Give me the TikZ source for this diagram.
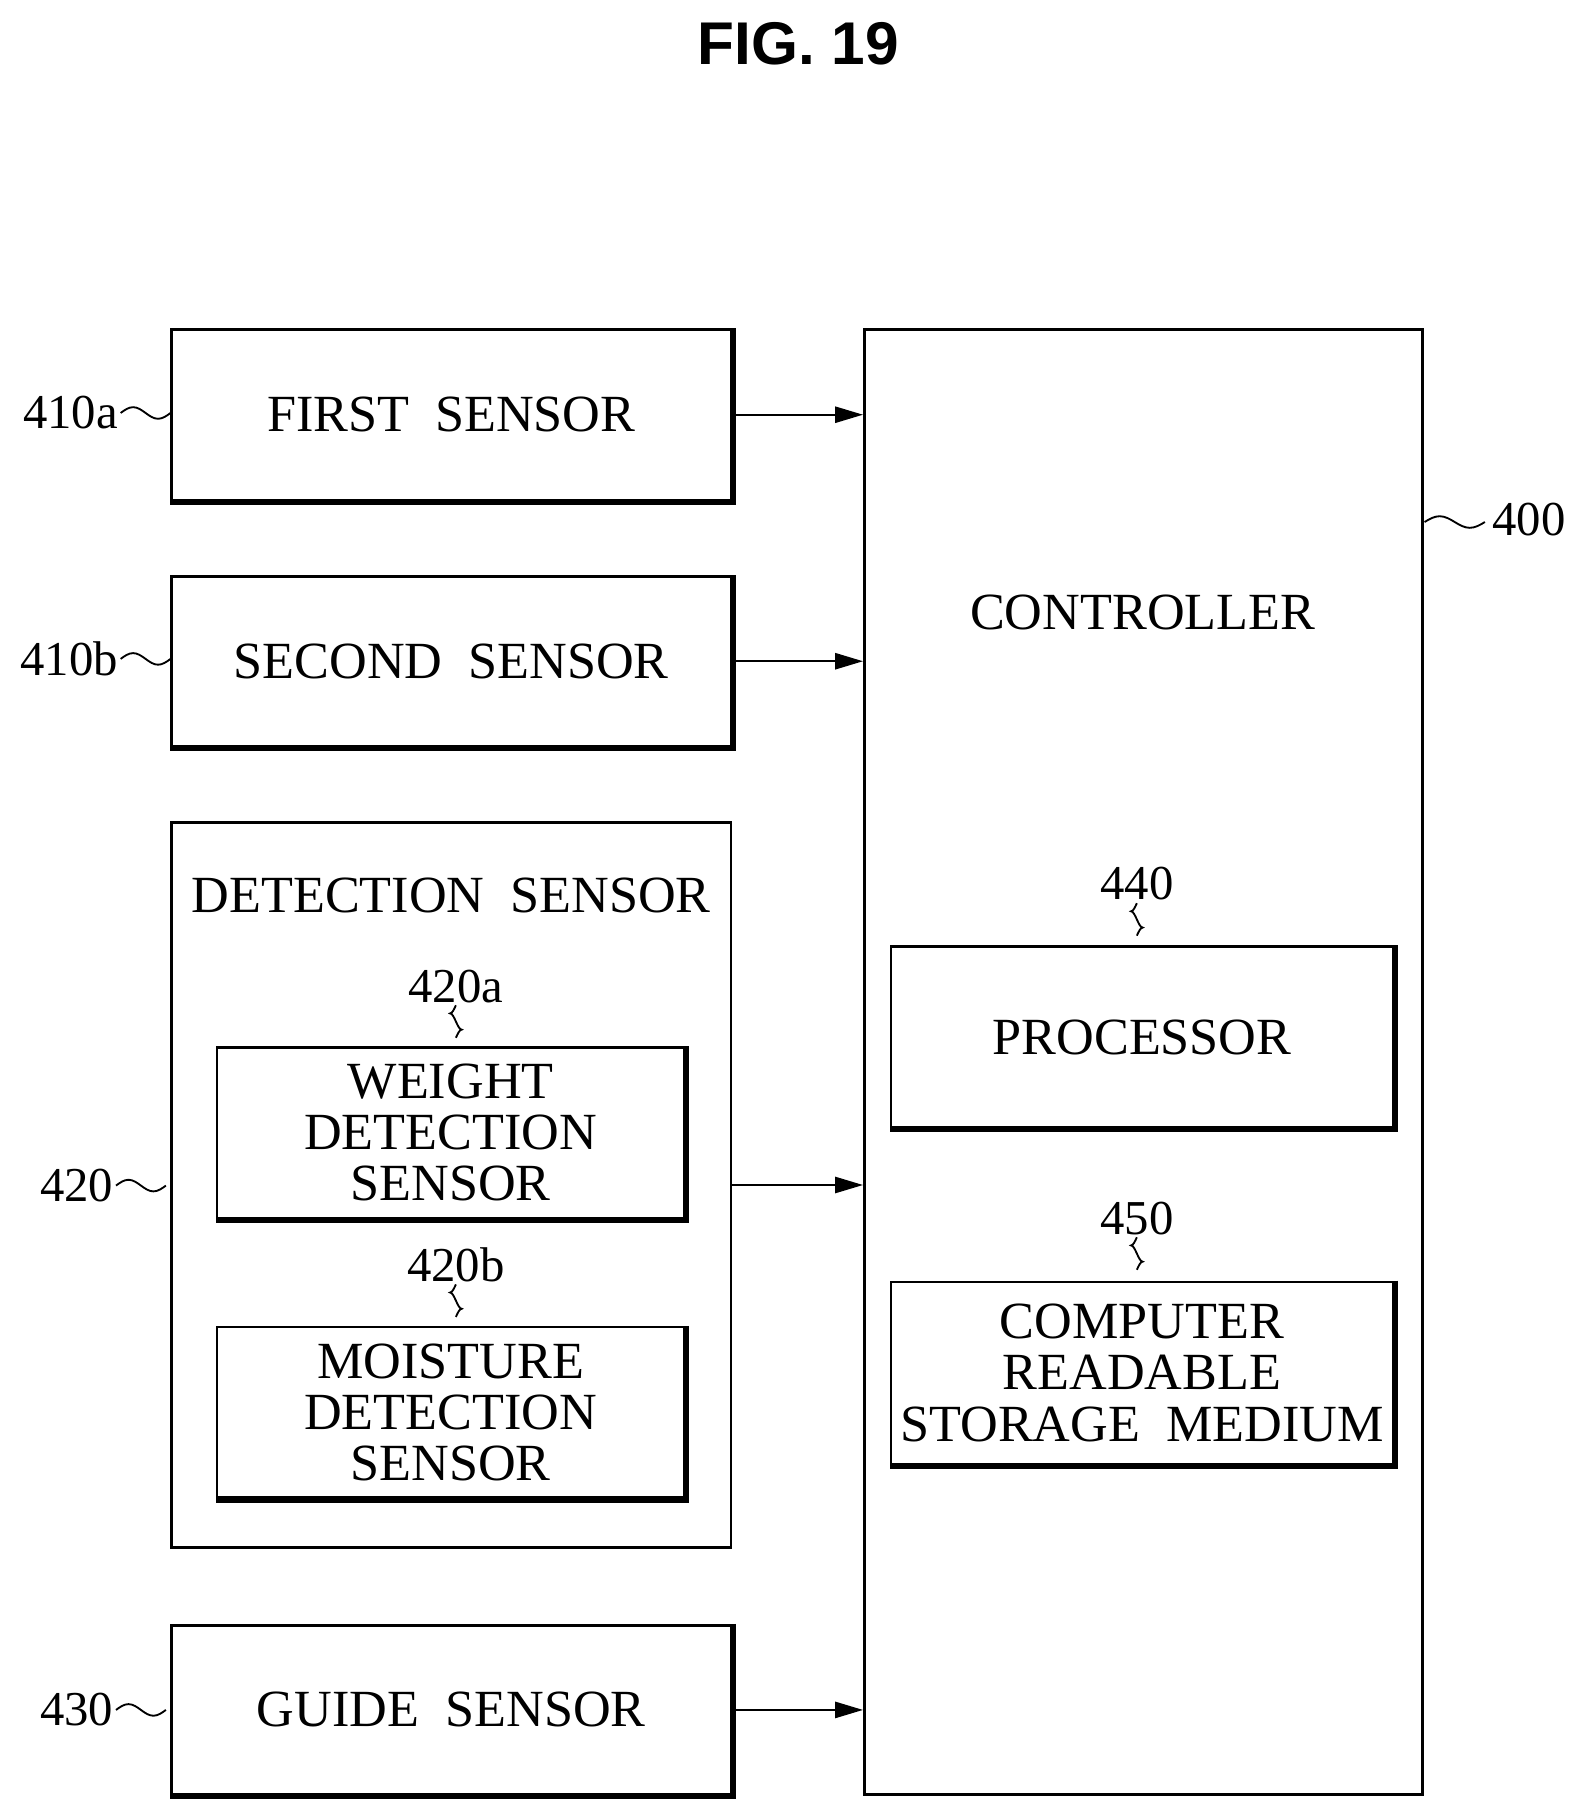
\documentclass[tikz,border=0pt]{standalone}
\usepackage{fontspec}
\setmainfont{Liberation Serif}
\newfontfamily\titlefont{Liberation Sans}
\usetikzlibrary{arrows.meta}
\begin{document}
\begin{tikzpicture}[x=0.5pt,y=-0.5pt,
  box/.style={draw,line width=1.1pt,inner sep=0pt,align=center,font=\fontsize{22.5}{22.5}\selectfont},
  arr/.style={-{Triangle[length=12pt,width=7pt]},line width=0.8pt},
  sq/.style={line width=0.8pt}]
\useasboundingbox (0,0) rectangle (1366,1562);
\node[font=\titlefont\bfseries\fontsize{26}{26}\selectfont] (title) at (688,38) {FIG. 19};
\node[box,minimum width=241pt,minimum height=73.5pt] (s1) at (389,357.5) {FIRST\ \ SENSOR};
\node[box,minimum width=241pt,minimum height=73pt] (s2) at (389,570) {SECOND\ \ SENSOR};
\node[box,minimum width=241pt,minimum height=312.5pt] (det) at (389,1021.5) {};
\node[font=\fontsize{22.5}{22.5}\selectfont] (detl) at (389,772) {DETECTION\ \ SENSOR};
\node[box,minimum width=201.5pt,minimum height=73.5pt,font=\fontsize{22.5}{22}\selectfont] (w) at (388.5,976.5) {WEIGHT\\DETECTION\\SENSOR};
\node[box,minimum width=201.5pt,minimum height=73.5pt,font=\fontsize{22.5}{22}\selectfont] (m) at (388.5,1217.5) {MOISTURE\\DETECTION\\SENSOR};
\node[box,minimum width=241pt,minimum height=73pt] (g) at (389,1474) {GUIDE\ \ SENSOR};
\node[box,minimum width=240.5pt,minimum height=631.5pt] (c) at (985.5,915.5) {};
\node[font=\fontsize{22.5}{22.5}\selectfont] (cl) at (985,528) {CONTROLLER};
\node[box,minimum width=216.5pt,minimum height=78pt] (p) at (984.5,894) {PROCESSOR};
\node[box,minimum width=216.5pt,minimum height=78.5pt,font=\fontsize{22.5}{22}\selectfont] (st) at (984.5,1183.5) {COMPUTER\\READABLE\\STORAGE\ \ MEDIUM};
% shadows
\foreach \n in {s1,s2,w,m,g,p,st}{
  \draw[line width=1.5pt] ([xshift=0.8pt]\n.north east) -- ([xshift=0.8pt,yshift=-0.8pt]\n.south east) -- ([yshift=-0.8pt]\n.south west);}
% arrows
\draw[arr] (s1.east) -- (s1.east -| c.west);
\draw[arr] (s2.east) -- (s2.east -| c.west);
\draw[arr] (det.east) -- (det.east -| c.west);
\draw[arr] (g.east) -- (g.east -| c.west);
% labels
\tikzset{lab/.style={font=\fontsize{21}{21}\selectfont,inner sep=1pt}}
\node[lab,anchor=east] (l1) at (104,356) {410a};
\node[lab,anchor=east] (l2) at (104,568) {410b};
\node[lab,anchor=east] (l3) at (100,1022) {420};
\node[lab,anchor=east] (l4) at (100,1474) {430};
\node[lab,anchor=west] (l5) at (1284,448) {400};
\node[lab] (l6) at (980,762) {440};
\node[lab] (l7) at (980,1050) {450};
\node[lab] (l8) at (393,850) {420a};
\node[lab] (l9) at (393,1090) {420b};
\foreach \a/\b in {l1/s1,l2/s2,l3/det,l4/g}{
  \draw[sq] (\a.east) sin ++(10.75,-5) cos ++(10.75,5) sin ++(10.75,5) cos ++(10.75,-5);}
\draw[sq] (1228,450) sin ++(13,-5) cos ++(13,5) sin ++(13,5) cos ++(13,-5);
\foreach \a/\b in {l6/p,l7/st,l8/w,l9/m}{
  \draw[sq] (\a.south) sin ++(-5,7) cos ++(5,7) sin ++(5,7) cos ++(-5,7);}
\end{tikzpicture}
\end{document}
